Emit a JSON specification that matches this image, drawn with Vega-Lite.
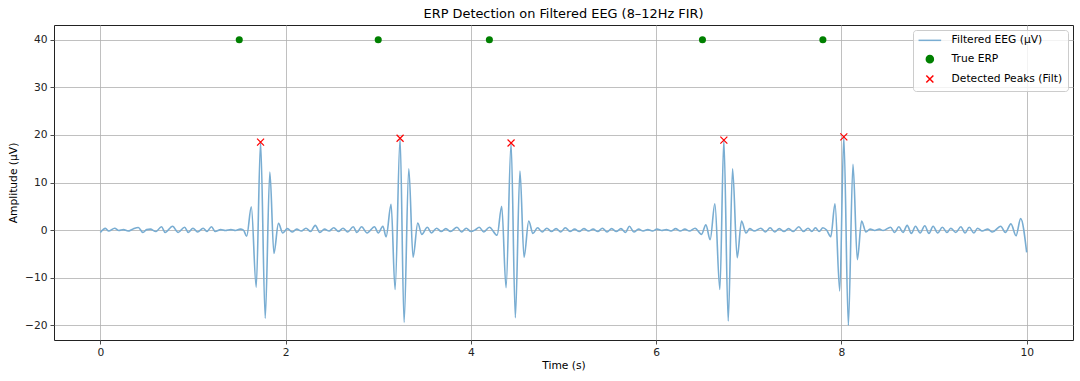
{
  "$schema": "https://vega.github.io/schema/vega-lite/v6.json",
  "autosize": {"type": "none"},
  "width": 1019,
  "height": 315,
  "padding": {"left": 54, "top": 25, "right": 7, "bottom": 41},
  "title": {"text": "ERP Detection on Filtered EEG (8–12Hz FIR)", "fontSize": 12.9, "fontWeight": "normal", "font": "DejaVu Sans", "color": "#000", "baseline": "bottom", "offset": 6, "frame": "group", "dy": 15},
  "config": {
    "font": "DejaVu Sans",
    "view": {"stroke": "#222", "strokeWidth": 1},
    "axis": {"domain": false, "grid": true, "gridColor": "#b0b0b0", "gridWidth": 0.8, "tickColor": "#222", "tickSize": 4, "tickWidth": 0.8, "labelFontSize": 10.7, "labelColor": "#222", "labelFont": "DejaVu Sans", "titleFont": "DejaVu Sans", "titleFontSize": 10.7, "titleFontWeight": "normal", "titleColor": "#000", "labelPadding": 3},
    "legend": {"orient": "top-right", "offset": 5, "padding": 5, "fillColor": "rgba(255,255,255,0.8)", "strokeColor": "#cccccc", "cornerRadius": 3, "labelFontSize": 10.7, "labelFont": "DejaVu Sans", "labelColor": "#000", "symbolSize": 50, "rowPadding": 5.8, "labelOffset": 16.4, "symbolOffset": 6.5, "symbolStrokeWidth": 1.5, "symbolOpacity": 1}
  },
  "datasets": {
    "eeg": [
      {"t":0.00,"v":-0.5},{"t":0.03,"v":0.1},{"t":0.055,"v":0.35},{"t":0.09,"v":-0.2},{"t":0.155,"v":0.4},{"t":0.2,"v":-0.1},{"t":0.25,"v":0.1},{"t":0.3,"v":-0.2},{"t":0.35,"v":0.2},{"t":0.41,"v":0.55},{"t":0.46,"v":-0.5},{"t":0.5,"v":0.1},{"t":0.54,"v":0.2},{"t":0.6,"v":-0.3},{"t":0.66,"v":0.7},{"t":0.7,"v":-0.5},{"t":0.78,"v":0.8},{"t":0.84,"v":-0.5},{"t":0.91,"v":0.6},{"t":0.95,"v":-0.5},{"t":1.0,"v":0.4},{"t":1.05,"v":-0.4},{"t":1.11,"v":0.4},{"t":1.15,"v":-0.3},{"t":1.2,"v":0.7},{"t":1.24,"v":-0.3},{"t":1.3,"v":0.1},{"t":1.35,"v":-0.1},{"t":1.41,"v":0.1},{"t":1.46,"v":-0.1},{"t":1.51,"v":0.2},{"t":1.545,"v":0.0},
      {"t":1.58,"v":-1.3},{"t":1.63,"v":4.9},{"t":1.683,"v":-12},{"t":1.73,"v":18.5},{"t":1.78,"v":-18.5},{"t":1.83,"v":12.2},{"t":1.874,"v":-4.9},{"t":1.923,"v":1.4},{"t":1.97,"v":-0.6},
      {"t":2.02,"v":0.3},{"t":2.07,"v":-0.4},{"t":2.12,"v":0.2},{"t":2.17,"v":-0.2},{"t":2.22,"v":0.4},{"t":2.27,"v":-0.3},{"t":2.32,"v":1.0},{"t":2.37,"v":-0.5},{"t":2.42,"v":0.2},{"t":2.47,"v":-0.2},{"t":2.52,"v":0.5},{"t":2.57,"v":-0.3},{"t":2.62,"v":0.4},{"t":2.67,"v":-0.4},{"t":2.73,"v":0.7},{"t":2.77,"v":-0.5},{"t":2.82,"v":0.7},{"t":2.88,"v":-0.6},{"t":2.96,"v":0.7},{"t":3.0,"v":-0.6},{"t":3.05,"v":0.8},
      {"t":3.085,"v":-1.4},{"t":3.139,"v":5.4},{"t":3.182,"v":-12.5},{"t":3.236,"v":19.3},{"t":3.279,"v":-19.4},{"t":3.33,"v":12.9},{"t":3.376,"v":-5.7},{"t":3.427,"v":1.5},{"t":3.47,"v":-0.9},
      {"t":3.53,"v":0.6},{"t":3.575,"v":-0.6},{"t":3.63,"v":0.4},{"t":3.68,"v":-0.3},{"t":3.73,"v":0.3},{"t":3.78,"v":-0.3},{"t":3.85,"v":0.6},{"t":3.9,"v":-0.4},{"t":3.95,"v":0.4},{"t":4.0,"v":-0.3},{"t":4.05,"v":0.1},{"t":4.09,"v":0.6},{"t":4.14,"v":-0.4},{"t":4.2,"v":0.6},
      {"t":4.283,"v":-1.1},{"t":4.333,"v":5.0},{"t":4.38,"v":-12.1},{"t":4.434,"v":18.3},{"t":4.48,"v":-18.4},{"t":4.53,"v":12.4},{"t":4.574,"v":-5.7},{"t":4.625,"v":1.9},{"t":4.67,"v":-0.7},
      {"t":4.72,"v":0.5},{"t":4.77,"v":-0.4},{"t":4.82,"v":0.4},{"t":4.87,"v":-0.3},{"t":4.92,"v":0.3},{"t":4.97,"v":-0.4},{"t":5.02,"v":0.5},{"t":5.07,"v":-0.3},{"t":5.12,"v":0.2},{"t":5.17,"v":-0.3},{"t":5.22,"v":0.3},{"t":5.27,"v":-0.2},{"t":5.32,"v":0.2},{"t":5.37,"v":-0.3},{"t":5.42,"v":0.4},{"t":5.47,"v":-0.4},{"t":5.52,"v":0.3},{"t":5.57,"v":-0.3},{"t":5.62,"v":0.3},{"t":5.67,"v":-0.5},{"t":5.71,"v":0.8},{"t":5.76,"v":-0.4},{"t":5.81,"v":0.2},{"t":5.86,"v":-0.2},{"t":5.91,"v":0.1},{"t":5.96,"v":-0.2},{"t":6.01,"v":0.2},{"t":6.06,"v":-0.1},{"t":6.11,"v":0.1},{"t":6.16,"v":-0.2},{"t":6.21,"v":0.3},{"t":6.26,"v":-0.2},{"t":6.31,"v":0.2},{"t":6.36,"v":-0.2},{"t":6.42,"v":0.4},
      {"t":6.49,"v":-0.9},{"t":6.537,"v":1.1},{"t":6.583,"v":-2.0},{"t":6.634,"v":5.5},{"t":6.688,"v":-12.5},{"t":6.731,"v":18.9},{"t":6.778,"v":-19.1},{"t":6.825,"v":12.9},{"t":6.875,"v":-5.8},{"t":6.922,"v":1.9},{"t":6.97,"v":-0.6},
      {"t":7.01,"v":0.3},{"t":7.06,"v":-0.2},{"t":7.13,"v":0.4},{"t":7.18,"v":-0.4},{"t":7.23,"v":0.5},{"t":7.28,"v":-0.4},{"t":7.33,"v":0.3},{"t":7.38,"v":-0.3},{"t":7.43,"v":0.3},{"t":7.48,"v":-0.3},{"t":7.54,"v":0.7},{"t":7.59,"v":-0.3},{"t":7.64,"v":0.4},{"t":7.68,"v":-0.3},{"t":7.72,"v":0.5},{"t":7.76,"v":-0.3},{"t":7.8,"v":0.5},{"t":7.84,"v":0.0},
      {"t":7.885,"v":-1.4},{"t":7.931,"v":5.5},{"t":7.982,"v":-12.8},{"t":8.026,"v":19.6},{"t":8.075,"v":-20},{"t":8.125,"v":13.8},{"t":8.172,"v":-6.2},{"t":8.218,"v":1.9},{"t":8.265,"v":-0.4},
      {"t":8.31,"v":0.2},{"t":8.36,"v":-0.1},{"t":8.41,"v":0.2},{"t":8.45,"v":-0.1},{"t":8.53,"v":0.6},{"t":8.575,"v":-0.5},{"t":8.62,"v":0.7},{"t":8.665,"v":-0.5},{"t":8.71,"v":1.0},{"t":8.755,"v":-0.7},{"t":8.8,"v":0.8},{"t":8.85,"v":-0.6},{"t":8.9,"v":0.9},{"t":8.945,"v":-0.7},{"t":8.99,"v":0.8},{"t":9.04,"v":-0.6},{"t":9.09,"v":0.6},{"t":9.14,"v":-0.5},{"t":9.18,"v":0.4},{"t":9.235,"v":-0.5},{"t":9.29,"v":0.7},{"t":9.335,"v":-0.6},{"t":9.38,"v":0.6},{"t":9.43,"v":-0.6},{"t":9.47,"v":0.4},{"t":9.52,"v":-0.2},{"t":9.58,"v":0.2},{"t":9.63,"v":-0.4},{"t":9.72,"v":0.8},{"t":9.77,"v":-0.5},{"t":9.83,"v":1.3},{"t":9.885,"v":-1.2},{"t":9.935,"v":2.4},{"t":10.0,"v":-4.7}
    ],
    "erp": [
      {"t":1.5,"v":40},{"t":3.0,"v":40},{"t":4.2,"v":40},{"t":6.5,"v":40},{"t":7.8,"v":40}
    ],
    "peaks": [
      {"t":1.73,"v":18.5},{"t":3.236,"v":19.3},{"t":4.434,"v":18.3},{"t":6.731,"v":18.9},{"t":8.026,"v":19.6}
    ]
  },
  "encoding": {
    "x": {"field": "t", "type": "quantitative", "title": "Time (s)", "scale": {"domain": [-0.5, 10.5], "nice": false, "zero": false}, "axis": {"values": [0, 2, 4, 6, 8, 10], "titlePadding": 4}},
    "y": {"field": "v", "type": "quantitative", "title": "Amplitude (µV)", "scale": {"domain": [-23.1, 43.1], "nice": false, "zero": false}, "axis": {"values": [-20, -10, 0, 10, 20, 30, 40], "labelExpr": "replace(datum.label, '-', '−')", "titlePadding": 6}}
  },
  "layer": [
    {
      "data": {"name": "eeg"},
      "mark": {"type": "line", "interpolate": "monotone", "strokeWidth": 1.6},
      "encoding": {
        "color": {"datum": "Filtered EEG (µV)", "type": "nominal",
          "scale": {"domain": ["Filtered EEG (µV)", "True ERP", "Detected Peaks (Filt)"], "range": ["#79add2", "#008000", "#ff0000"]},
          "legend": {"title": null}
        }
      }
    },
    {
      "data": {"name": "erp"},
      "mark": {"type": "point", "filled": true, "size": 50, "opacity": 1},
      "encoding": {
        "color": {"datum": "True ERP", "type": "nominal", "legend": {"title": null}},
        "shape": {"datum": "True ERP", "type": "nominal",
          "scale": {"domain": ["Filtered EEG (µV)", "True ERP", "Detected Peaks (Filt)"], "range": ["M-3.2,0L3.2,0", "circle", "M-1,-1L1,1M-1,1L1,-1"]},
          "legend": {"title": null}
        }
      }
    },
    {
      "data": {"name": "peaks"},
      "mark": {"type": "point", "filled": false, "size": 49, "strokeWidth": 1.2, "opacity": 1},
      "encoding": {
        "color": {"datum": "Detected Peaks (Filt)", "type": "nominal", "legend": {"title": null}},
        "shape": {"datum": "Detected Peaks (Filt)", "type": "nominal", "legend": {"title": null}}
      }
    }
  ]
}
